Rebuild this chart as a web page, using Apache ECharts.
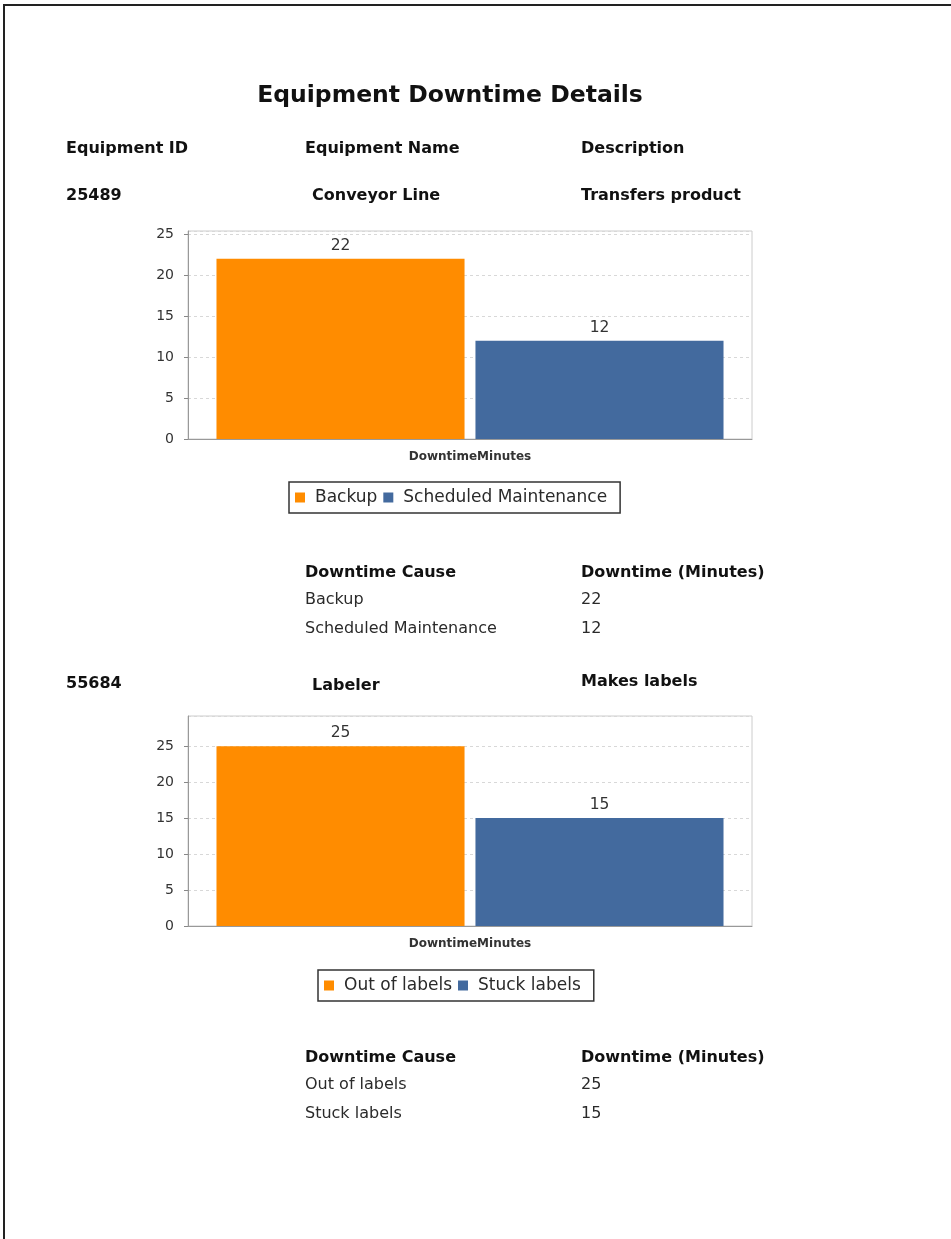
<!DOCTYPE html>
<html><head><meta charset="utf-8">
<script src="https://cdn.jsdelivr.net/npm/echarts@6/dist/echarts.min.js"></script>
<style>html,body{margin:0;padding:0;background:#fff;overflow:hidden}#c{width:951px;height:1239px;overflow:hidden}</style>
</head><body><div id="c"></div>
<script>
// ---- data ----
const reportTitle = 'Equipment Downtime Details';
const headerLabels = ['Equipment ID', 'Equipment Name', 'Description'];
const equipmentIds = ['25489', '55684'];
const equipmentNames = ['Conveyor Line', 'Labeler'];
const equipmentDescriptions = ['Transfers product', 'Makes labels'];
const tableHeaders = ['Downtime Cause', 'Downtime (Minutes)'];
const categoryLabels = ['DowntimeMinutes'];
const causes1 = ['Backup', 'Scheduled Maintenance'];
const minutes1 = [22, 12];
const causes2 = ['Out of labels', 'Stuck labels'];
const minutes2 = [25, 15];
const yTickValues = [0, 5, 10, 15, 20, 25];

// ---- layout / style ----
const FF = '"DejaVu Sans", "Liberation Sans", Arial, sans-serif';
const COLORS = ['#FF8C00', '#436A9E'];
const sections = [
  { rowY: 196, nameY: 196, descY: 196, grid: { left: 188, top: 231, width: 564, height: 208 }, yMax: 25.4,
    legend: { left: 289, top: 482 }, tableY: 573, causes: causes1, minutes: minutes1 },
  { rowY: 684, nameY: 686, descY: 682, grid: { left: 188, top: 716, width: 564, height: 210 }, yMax: 29.2,
    legend: { left: 318, top: 970 }, tableY: 1058, causes: causes2, minutes: minutes2 }
];

function txt(x, y, text, opts) {
  opts = opts || {};
  return {
    type: 'text', x: x, y: y, silent: true,
    style: {
      text: text,
      fontFamily: FF,
      fontSize: opts.size || 16,
      fontWeight: opts.bold ? 'bold' : 'normal',
      fill: opts.color || (opts.bold ? '#111' : '#2a2a2a'),
      textAlign: opts.align || 'left',
      textVerticalAlign: 'middle',
      align: opts.align || 'left',
      verticalAlign: 'middle'
    }
  };
}

const graphics = [];
graphics.push({ type: 'line', silent: true, shape: { x1: 4, y1: 4, x2: 4, y2: 1239 },
  style: { stroke: '#222', lineWidth: 2 } });
graphics.push({ type: 'line', silent: true, shape: { x1: 3, y1: 5, x2: 951, y2: 5 },
  style: { stroke: '#222', lineWidth: 2 } });
graphics.push(txt(450, 96, reportTitle, { bold: true, size: 23.5, align: 'center', color: '#111' }));
const colX = [66, 305, 581];
headerLabels.forEach((h, i) => graphics.push(txt(colX[i], 149, h, { bold: true })));
sections.forEach((s, k) => {
  graphics.push(txt(66, s.rowY, equipmentIds[k], { bold: true }));
  graphics.push(txt(312, s.nameY, equipmentNames[k], { bold: true }));
  graphics.push(txt(581, s.descY, equipmentDescriptions[k], { bold: true }));
  graphics.push(txt(305, s.tableY, tableHeaders[0], { bold: true }));
  graphics.push(txt(581, s.tableY, tableHeaders[1], { bold: true }));
  s.causes.forEach((c, i) => {
    const y = s.tableY + 27 + i * 29;
    graphics.push(txt(305, y, c));
    graphics.push(txt(581, y, String(s.minutes[i])));
  });
});

const grids = [], xAxes = [], yAxes = [], legends = [], series = [];
sections.forEach((s, k) => {
  grids.push(Object.assign({ show: true, borderColor: '#cccccc', borderWidth: 1, backgroundColor: '#fff' }, s.grid));
  xAxes.push({
    type: 'category', gridIndex: k, data: categoryLabels,
    axisLine: { show: true, lineStyle: { color: '#999', width: 1 } },
    axisTick: { show: false },
    splitLine: { show: false },
    axisLabel: { margin: 12, fontSize: 12, fontWeight: 'bold', color: '#333', fontFamily: FF }
  });
  yAxes.push({
    type: 'value', gridIndex: k, min: 0, max: s.yMax, interval: 5,
    axisLine: { show: true, lineStyle: { color: '#999', width: 1 } },
    axisTick: { show: true, inside: false, length: 4, lineStyle: { color: '#888', width: 1 } },
    axisLabel: { show: true, showMaxLabel: false, margin: 14, fontSize: 14, color: '#333', fontFamily: FF },
    splitLine: { show: true, lineStyle: { type: [3, 3], color: '#d8d8d8', width: 1 } }
  });
  legends.push({
    data: s.causes, left: s.legend.left, top: s.legend.top, orient: 'horizontal',
    itemWidth: 20, itemHeight: 10, itemGap: 6, icon: 'path://M0,0H10V10H0Z', symbolKeepAspect: true,
    padding: [7, 13, 7, 6], borderColor: '#333', borderWidth: 1.5, backgroundColor: '#fff',
    selectedMode: false,
    textStyle: { fontFamily: FF, fontSize: 17, color: '#2a2a2a' }
  });
  s.causes.forEach((c, i) => {
    series.push({
      name: c, type: 'bar', xAxisIndex: k, yAxisIndex: k,
      data: [s.minutes[i]],
      barGap: '4.4%', barCategoryGap: '10.1%',
      itemStyle: { color: COLORS[i] },
      label: { show: true, position: 'top', distance: 5, color: '#333', fontSize: 15.5, fontFamily: FF },
      emphasis: { disabled: true }
    });
  });
});

const chart = echarts.init(document.getElementById('c'), null, { renderer: 'canvas', width: 951, height: 1239 });
chart.setOption({
  animation: false,
  backgroundColor: '#fff',
  grid: grids, xAxis: xAxes, yAxis: yAxes, legend: legends, series: series,
  graphic: { elements: graphics }
});
</script>
</body></html>
